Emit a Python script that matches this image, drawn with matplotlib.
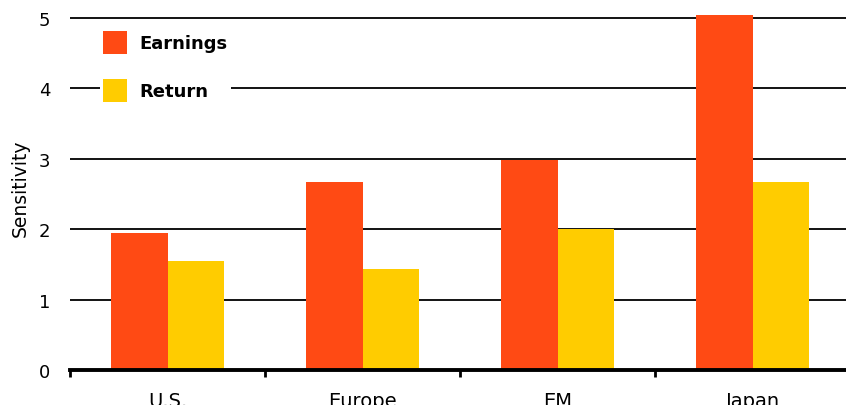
import numpy as np
import matplotlib
matplotlib.use("Agg")
import matplotlib.pyplot as plt

plt.rcParams['font.family'] = ['DejaVu Sans']

regions = ["U.S.", "Europe", "EM", "Japan"]
earnings = [1.95, 2.67, 2.98, 5.04]
returns = [1.55, 1.43, 2.01, 2.67]
yticks = [0, 1, 2, 3, 4, 5]

c_earn = "#FF4A14"
c_ret = "#FFCC00"

fig = plt.figure(figsize=(8.46, 4.06), dpi=100)
ax = fig.add_axes([70 / 846, 35 / 406, 776 / 846, 366 / 406])

x = np.arange(len(regions)) + 0.5
w = 0.29
ax.bar(x - w / 2, earnings, w, color=c_earn, label="Earnings", zorder=3)
ax.bar(x + w / 2, returns, w, color=c_ret, label="Return", zorder=3)

ax.set_xlim(0, 776 / 195)
ax.set_ylim(0, 5.2)

# horizontal grid lines
for v in yticks[1:]:
    ax.axhline(v, color="black", lw=1.3, zorder=1)

for s in ["left", "right", "top"]:
    ax.spines[s].set_visible(False)
ax.spines["bottom"].set_linewidth(2.8)
ax.spines["bottom"].set_zorder(4)

ax.set_yticks(yticks)
ax.set_yticklabels([str(v) for v in yticks])
ax.tick_params(axis="y", length=0, pad=14, labelsize=13)

ax.set_xticks(np.arange(len(regions)))
ax.set_xticklabels([])
ax.tick_params(axis="x", which="major", length=5, width=2, direction="out")
ax.set_xticks(x, minor=True)
ax.set_xticklabels(regions, minor=True)
ax.tick_params(axis="x", which="minor", length=0, pad=15, labelsize=14)

ax.set_ylabel("Sensitivity", fontsize=13.5, labelpad=7)

leg = ax.legend(loc="upper left", bbox_to_anchor=(30 / 776, 0.933),
                frameon=True, fancybox=False, edgecolor="none", facecolor="white",
                framealpha=1, handlelength=1.33, handleheight=1.55,
                handletextpad=0.72, labelspacing=1.4, borderpad=0.15,
                borderaxespad=0, prop={"weight": "bold", "size": 13})
leg.set_zorder(5)

fig.savefig("out.png", dpi=100)
